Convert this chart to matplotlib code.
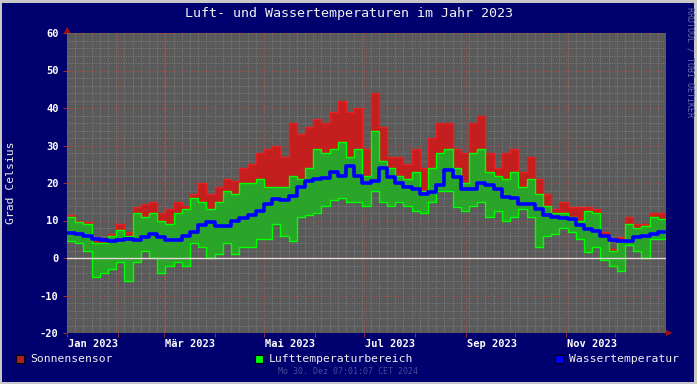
"""Luft- und Wassertemperaturen 2023 (rrdtool-style chart)."""
import numpy as np
import matplotlib
matplotlib.use('Agg')
import matplotlib.pyplot as plt
from matplotlib.patches import Rectangle

# 5-day bins, day-of-year 0..364
bin_days = 5
luft_max = [11, 9.5, 9, 4, 4, 6, 7.5, 6, 12, 11, 12, 10, 9, 12, 13, 16, 15, 13, 15, 18,
            17, 20, 20, 21, 19, 19, 19, 22, 21, 24, 29, 28, 29, 31, 27, 29, 22, 34, 26, 24,
            22, 21, 23, 18, 24, 28, 29, 24, 20, 28, 29, 23, 22, 21, 23, 19, 21, 17, 14, 12,
            12, 11, 10, 12.5, 12, 6, 2, 4.5, 9, 8, 8.5, 11, 10.5]
luft_min = [4.5, 4, 2, -5, -4, -3, -1, -6, -1, 2, 0, -4, -2, -1, -2, 4, 3, 0, 1, 4,
            1, 3, 3, 5, 5, 9, 6, 4.5, 11, 11.5, 12, 14, 15.5, 16, 15, 15, 14, 18, 15, 14,
            15, 14, 12.5, 12, 15, 18, 18, 13.5, 12.5, 14, 15, 11, 12.5, 10, 11, 13, 11, 3, 6, 6.5,
            8, 7, 5, 1.5, 3, -0.5, -2, -3.5, 3.5, 2, 0, 5, 5]
sonne = [11.5, 10, 9.5, 5, 5, 6.5, 9, 7, 13.5, 14.5, 15, 12, 13, 15, 14, 17, 20, 17, 19, 21,
         20.5, 24, 25, 28, 29, 30, 27, 36, 33, 35, 37, 36, 39, 42, 39, 40, 29, 44, 35, 27,
         27, 25, 29, 24, 32, 36, 36, 29, 28, 36, 38, 28, 24, 28, 29, 23, 27, 21, 17, 13,
         15, 13.5, 13.5, 13.5, 13, 7, 2.5, 5.5, 11, 9, 9, 12, 12]
wasser = [6.8, 6.5, 6.0, 5.0, 4.7, 4.6, 4.7, 5.0, 4.7, 5.5, 6.3, 5.5, 4.8, 4.9, 5.8, 7.0, 8.8, 9.6, 8.6, 8.5,
          10.0, 10.8, 11.5, 12.5, 14.3, 15.8, 15.5, 16.5, 19.0, 20.6, 21.0, 21.3, 23.0, 22.0, 24.5, 22.0, 20.0, 20.5, 24.0, 21.5,
          20.0, 19.0, 18.3, 17.2, 17.5, 19.5, 23.5, 21.5, 18.5, 18.5, 20.0, 19.5, 18.5, 16.3, 16.0, 14.5, 14.5, 13.0, 11.5, 11.0,
          10.8, 10.3, 8.8, 7.8, 7.2, 6.0, 4.7, 4.5, 4.6, 5.6, 6.0, 6.5, 7.0]

month_starts = [0, 31, 59, 90, 120, 151, 181, 212, 243, 273, 304, 334]
month_labels = ['Jan 2023', 'Mär 2023', 'Mai 2023', 'Jul 2023', 'Sep 2023', 'Nov 2023']

BG = '#00006e'
PLOT_BG = '#5a5a5a'
mono = 'DejaVu Sans Mono'

W, H = 697, 384
fig = plt.figure(figsize=(W / 100, H / 100), dpi=100, facecolor='#c8c8c8')
fig.patches.append(Rectangle((2 / W, 2 / H), 1 - 5 / W, 1 - 5 / H, transform=fig.transFigure,
                             facecolor=BG, edgecolor='none', zorder=-10))

x0, x1, y0, y1 = 67, 666, 33, 333
ax = fig.add_axes([x0 / W, 1 - y1 / H, (x1 - x0) / W, (y1 - y0) / H])
ax.set_facecolor(PLOT_BG)

# step data
x = np.arange(len(luft_max) + 1) * bin_days
x[-1] = 365
def ext(a):
    return np.append(a, a[-1])
lmax, lmin, son, was = ext(luft_max), ext(luft_min), ext(sonne), ext(wasser)

ax.fill_between(x, lmin, son, step='post', color='#c41e1e', lw=0, zorder=2)
ax.step(x, son, where='post', color='#e82020', lw=1.0, zorder=2.1)
ax.fill_between(x, lmin, lmax, step='post', color='#2aa52a', lw=0, zorder=3)
ax.step(x, lmax, where='post', color='#00ff00', lw=1.0, zorder=3.1)
ax.step(x, lmin, where='post', color='#00ff00', lw=1.0, zorder=3.1)
ax.step(x, was, where='post', color='#0000ff', lw=2.6, zorder=4)
ax.axhline(0, color='#e8d8d8', lw=1.0, zorder=5)

ax.set_xlim(0, 365)
ax.set_ylim(-20, 60)

# grid
for yv in np.arange(-20, 61, 2):
    major = yv % 10 == 0
    ax.axhline(yv, color='#b04a4a' if major else '#808080', lw=0.7, ls=(0, (1, 1.5)), zorder=1)
for d in np.arange(0, 365, 5):
    ax.axvline(d, color='#808080', lw=0.7, ls=(0, (1, 1.5)), zorder=1)
for d in month_starts:
    ax.axvline(d, color='#b04a4a', lw=0.7, ls=(0, (1, 1.5)), zorder=1.05)

ax.set_yticks(np.arange(-20, 61, 10))
ax.set_yticklabels([str(v) for v in range(-20, 61, 10)], family=mono, fontsize=7.5,
                   color='white', fontweight='bold')
ax.set_xticks(month_starts)
ax.set_xticklabels([])
ax.tick_params(axis='both', colors='#a03030', length=3, width=0.7)
ax.tick_params(axis='y', labelcolor='white', pad=3)
for s in ax.spines.values():
    s.set_visible(False)

for d, lbl in zip(month_starts[::2], month_labels):
    ax.text(d + 0.5, -21.5, lbl, family=mono, fontsize=7.5, fontweight='bold',
            color='white', ha='left', va='top', clip_on=False)

# arrows
fig.text(x0 / W, 1 - 30 / H, '▲', color='#a01010', fontsize=6, ha='center', va='center')
fig.text(669 / W, 1 - y1 / H, '▶', color='#a01010', fontsize=6, ha='center', va='center')

fig.text(349 / W, 1 - 13 / H, 'Luft- und Wassertemperaturen im Jahr 2023', family=mono,
         fontsize=9.6, color='#f0f0f0', ha='center', va='center')
fig.text(11 / W, 1 - 183 / H, 'Grad Celsius', family=mono, fontsize=8.2, color='#f0f0f0',
         rotation=90, ha='center', va='center')
fig.text(690 / W, 1 - 62 / H, 'RRDTOOL / TOBI OETIKER', family=mono, fontsize=6,
         color='#6c6ca8', rotation=270, ha='center', va='center')
fig.text(348 / W, 1 - 372 / H, 'Mo 30. Dez 07:01:07 CET 2024', family=mono, fontsize=6,
         color='#4a4a98', ha='center', va='center')

legend = [('Sonnensensor', '#b41c30', 16), ('Lufttemperaturbereich', '#00ff00', 255),
          ('Wassertemperatur', '#0000ff', 555)]
for name, c, lx in legend:
    fig.patches.append(Rectangle((lx / W, 1 - 363 / H), 8 / W, 8 / H, transform=fig.transFigure,
                                 facecolor=c, edgecolor='black', lw=0.8, zorder=3))
    fig.text((lx + 14) / W, 1 - 359 / H, name, family=mono, fontsize=8.2, color='#f0f0f0',
             ha='left', va='center')

fig.savefig('out.png', dpi=100, facecolor=fig.get_facecolor())
